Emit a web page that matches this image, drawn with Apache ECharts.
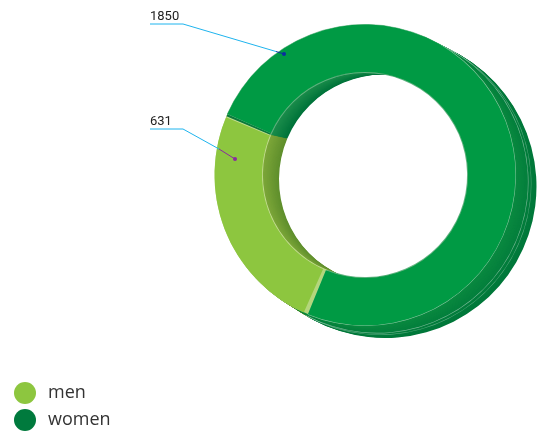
<!DOCTYPE html>
<html><head><meta charset="utf-8">
<style>html,body{margin:0;padding:0;background:#fff}#c{width:539px;height:431px}</style>
<script src="https://cdn.jsdelivr.net/npm/echarts@6/dist/echarts.min.js"></script>
</head><body><div id="c"></div>
<script>
const categories = ['men', 'women'];
const values = [631, 1850];
const legendColors = ['#8dc63f', '#007a3d'];

const chart = echarts.init(document.getElementById('c'), null, {renderer: 'canvas'});
const front = {cx: 365, cy: 175, r0: 103, r: 150.5};
const outerWall = {dx: 20, dy: 11.5, grow: 1};
const innerWall = {dx: 19, dy: 4.5, grow: 2};
const S = 248.6;
const none = 'rgba(0,0,0,0)';

function ring(cx, cy, r0, r, start, colors) {
  return {
    type: 'pie', silent: true, animation: false, clockwise: true,
    center: [cx, cy], radius: [r0, r], startAngle: start, minAngle: 0,
    label: {show: false}, labelLine: {show: false},
    data: categories.map((n, i) => ({name: n, value: values[i], itemStyle: {color: colors[i]}}))
  };
}
function lerp(a, b, t) {
  const p = s => [1, 3, 5].map(i => parseInt(s.substr(i, 2), 16));
  const A = p(a), B = p(b);
  return 'rgb(' + A.map((v, i) => Math.round(v + (B[i] - v) * t)).join(',') + ')';
}
const series = [];
const N = 24;
for (let k = N; k >= 1; k--) {
  const t = k / N;
  series.push(ring(front.cx + outerWall.dx * t, front.cy + outerWall.dy * t,
    front.r - 15, front.r + outerWall.grow * t, S - 7, ['#5c8f2c', lerp('#0a8a40', '#00773a', t)]));
}
for (let k = N; k >= 1; k--) {
  const t = k / N;
  series.push(ring(front.cx + innerWall.dx * t, front.cy + innerWall.dy * t,
    front.r0 + innerWall.grow * t, front.r0 + 20, S, [lerp('#7fa83a', '#5f8f2c', t), lerp('#1d8f4c', '#00733a', t)]));
}
// Thin light lines on the wall
series.push(ring(front.cx + outerWall.dx * 0.6, front.cy + outerWall.dy * 0.6, front.r + 0.4, front.r + 1.0, S - 7, [none, 'rgba(255,255,255,0.45)']));
series.push(ring(front.cx + outerWall.dx * 0.75, front.cy + outerWall.dy * 0.75, front.r + 0.4, front.r + 0.9, S - 7, [none, 'rgba(255,255,255,0.35)']));
series.push(ring(front.cx, front.cy, front.r0 - 0.9, front.r0 + 1, S, ['#c4dc92', '#62b283']));
// men strip, men face, seam layers, women face
series.push(ring(front.cx, front.cy, front.r0, front.r, S, ['#b4d67c', none]));
series.push(ring(front.cx, front.cy, front.r0, front.r, S - 2.6, ['#8dc63f', none]));
series.push(ring(front.cx, front.cy, front.r0, front.r, S + 0.4, [none, '#c4dc92']));
series.push(ring(front.cx, front.cy, front.r0, front.r, S, [none, '#0b7a3c']));
series.push(ring(front.cx, front.cy, front.r0, front.r + 0.5, S - 0.9, [none, '#8cc8a4']));
series.push(ring(front.cx, front.cy, front.r0, front.r, S - 0.9, [none, '#009a44']));

function callout(value, ty, lineY, px, py, ex, ey, innerColor) {
  return [
    {type: 'polyline', shape: {points: [[150, lineY], [183, lineY], [ex, ey]]}, style: {stroke: '#1fb4ee', fill: null, lineWidth: 1}, z: 100},
    {type: 'line', shape: {x1: ex, y1: ey, x2: px, y2: py}, style: {stroke: innerColor, lineWidth: 1}, z: 100},
    {type: 'circle', shape: {cx: px, cy: py, r: 2}, style: {fill: innerColor}, z: 101},
    {type: 'text', x: 150, y: ty, style: {text: String(value), fill: '#222', font: '13px Roboto, sans-serif'}, z: 101}
  ];
}
chart.setOption({
  animation: false,
  backgroundColor: '#fff',
  legend: {
    orient: 'vertical', left: 14, top: 382, height: 49, padding: 0, itemWidth: 22, itemHeight: 22, itemGap: 5,
    selectedMode: false, icon: 'circle',
    textStyle: {fontSize: 18, color: '#333', fontFamily: '"Open Sans", sans-serif', padding: [0, 0, 0, 7]},
    data: categories.map((n, i) => ({name: n, itemStyle: {color: legendColors[i], borderWidth: 0}}))
  },
  series,
  graphic: [].concat(
    callout(values[1], 10, 24, 284, 54, 276, 51.5, '#0b2ea0'),
    callout(values[0], 115, 129, 235, 159, 219, 149, '#8a2aa0')
  )
});
</script></body></html>
